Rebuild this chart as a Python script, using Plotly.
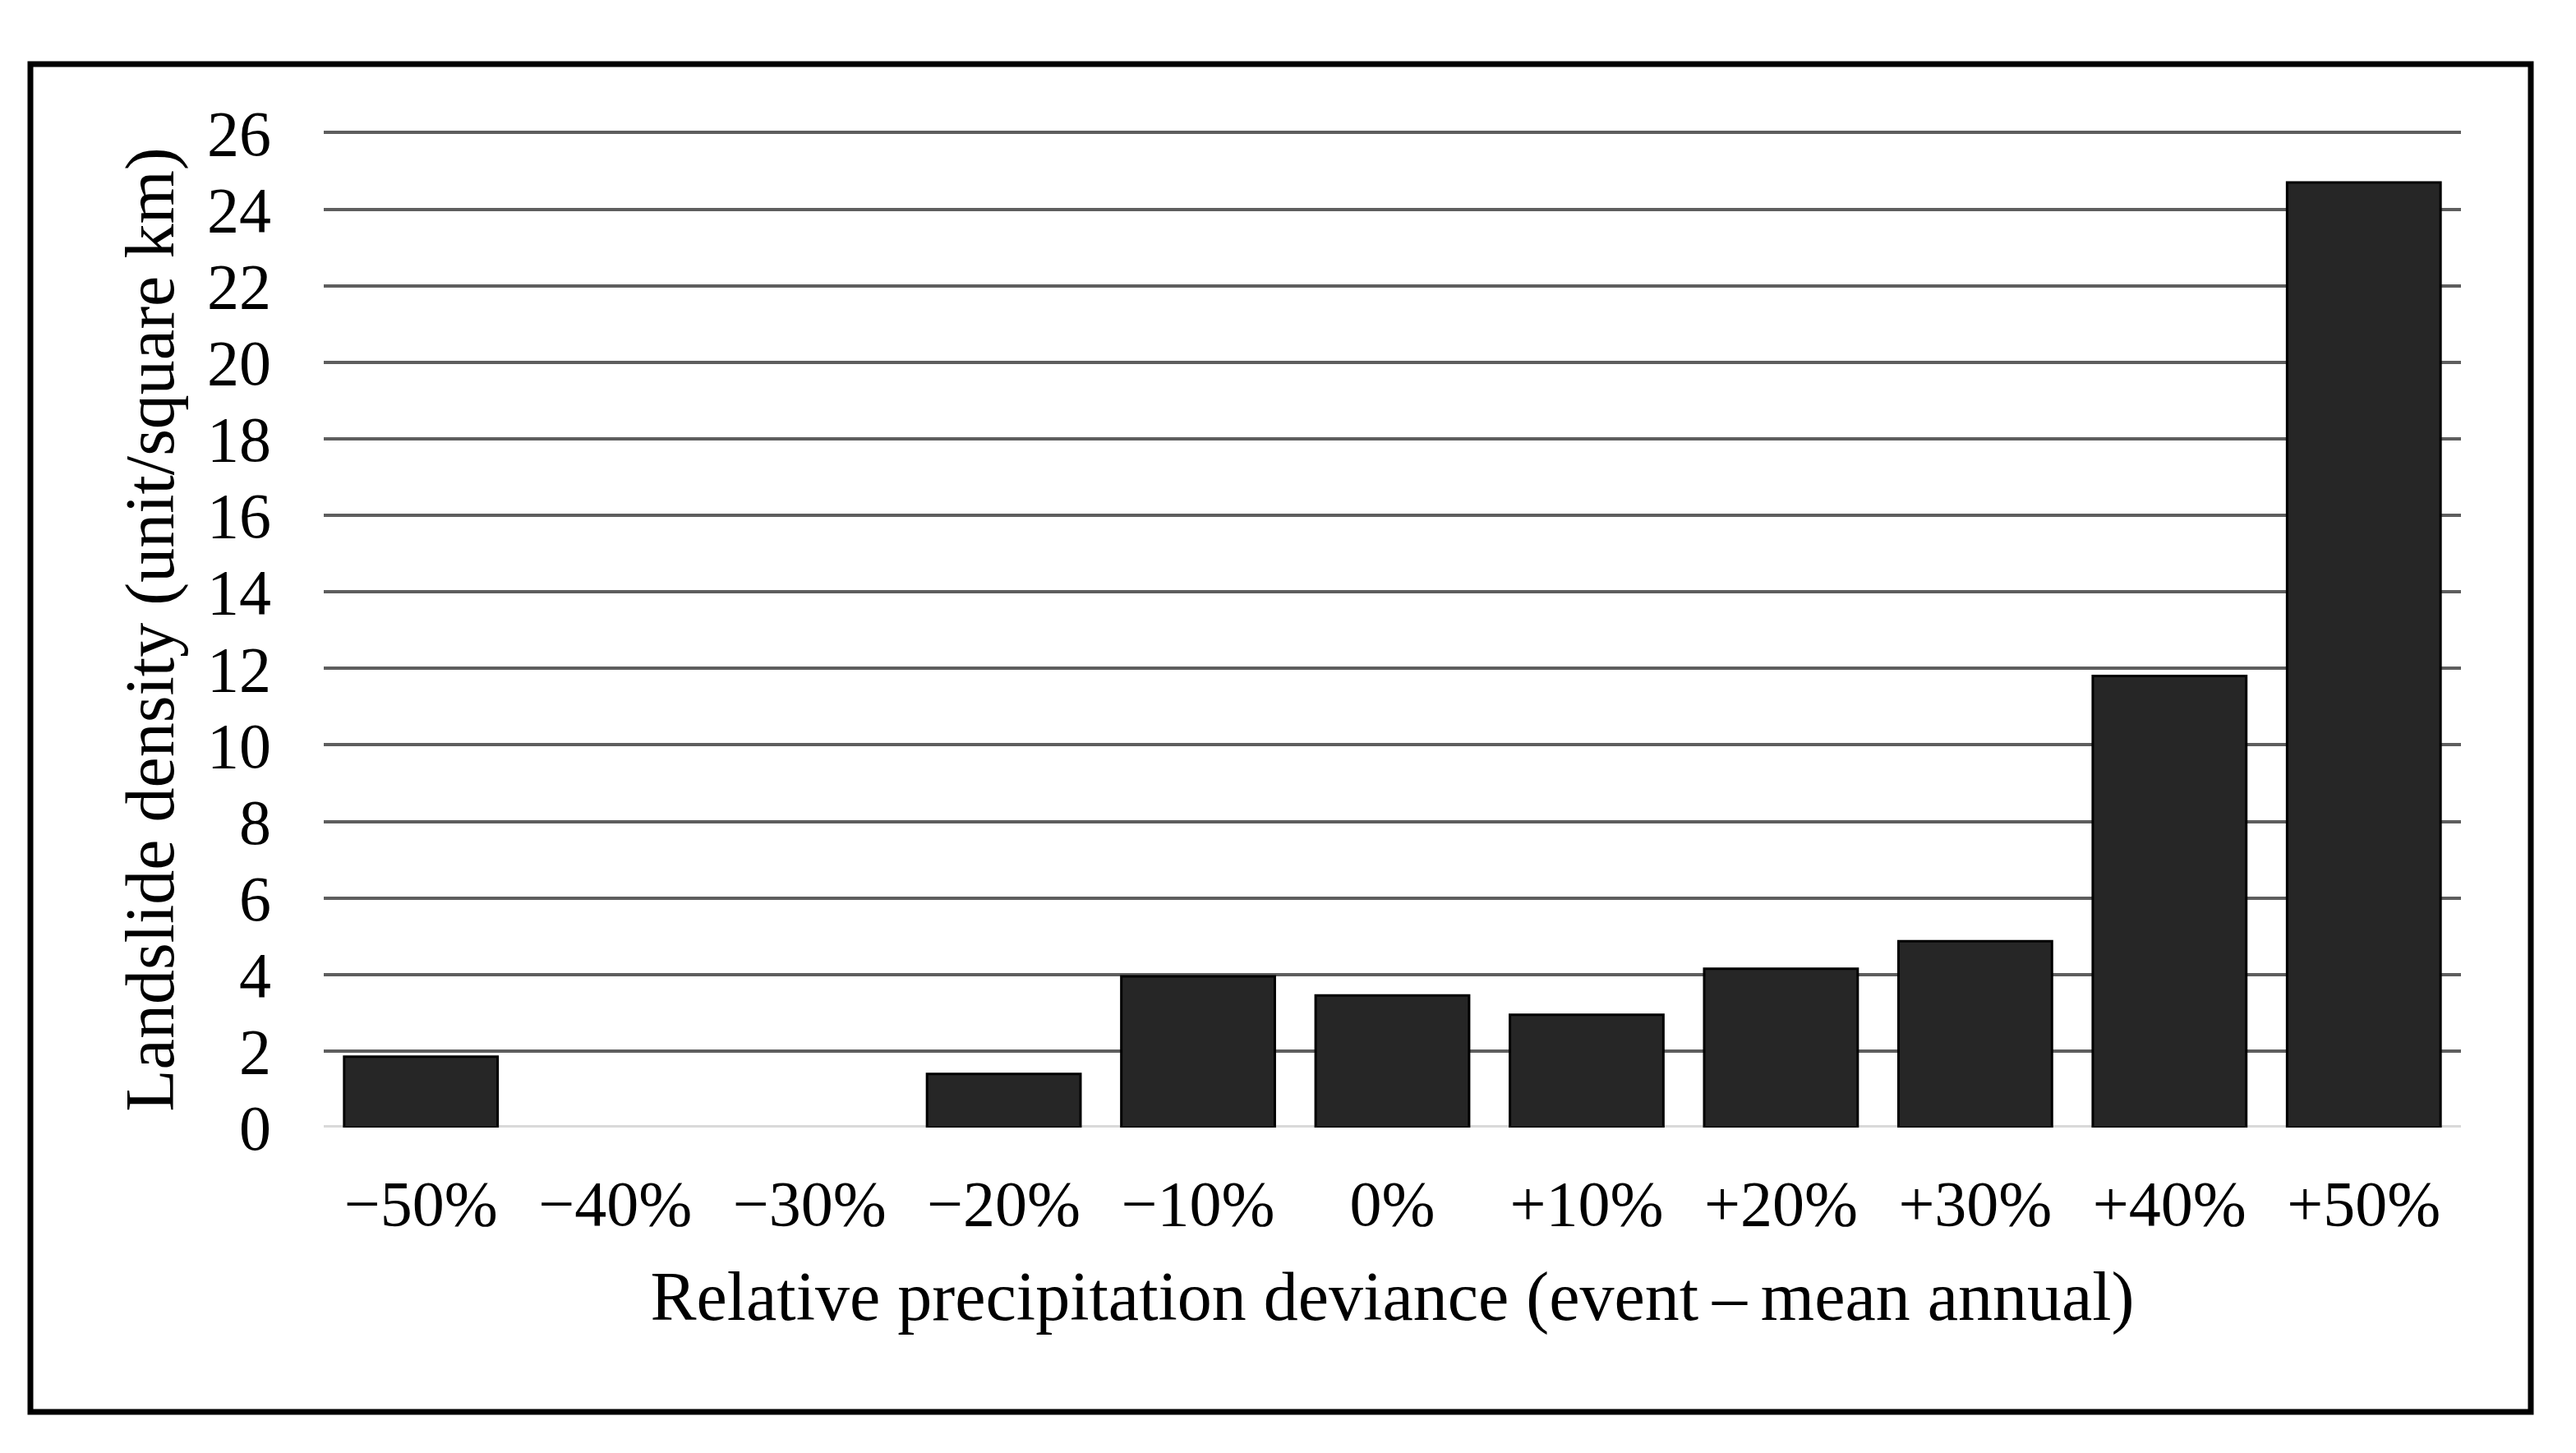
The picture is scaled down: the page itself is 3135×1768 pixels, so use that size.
import plotly.graph_objects as go

categories = ["\u221250%", "\u221240%", "\u221230%", "\u221220%", "\u221210%", "0%",
              "+10%", "+20%", "+30%", "+40%", "+50%"]
density = [1.85, 0, 0, 1.4, 3.95, 3.45, 2.95, 4.15, 4.87, 11.8, 24.7]
y_ticks = list(range(0, 27, 2))

# page body has an 8px margin; work in screen pixels and offset
OFF = 8
W, H = 3135 - 2 * OFF, 1768 - 2 * OFF
L = 394 - OFF
T = 160 - OFF
R = W - (2995 - OFF)
B = H - (1372 - OFF)
pw = W - L - R
ph = H - T - B

font_family = "Liberation Serif, Times New Roman, serif"

fig = go.Figure(go.Bar(
    x=categories, y=density,
    marker=dict(color="#262626",
                line=dict(color="#000000", width=[3 if v > 0 else 0 for v in density])),
    showlegend=False,
))

def px_to_paper_x(px):
    return (px - OFF - L) / pw

def px_to_paper_y(py):
    return (H - B - (py - OFF)) / ph

fig.update_layout(
    width=W, height=H,
    margin=dict(l=L, r=R, t=T, b=B, autoexpand=False),
    paper_bgcolor="white", plot_bgcolor="white",
    bargap=0.21,
    font=dict(family=font_family, color="#000000", size=70),
    xaxis=dict(
        type="category", automargin=False,
        showgrid=False, showline=False, zeroline=False,
        ticks="", tickfont=dict(size=78, family=font_family),
        ticklabelstandoff=40,
        title=dict(text="Relative precipitation deviance (event\u2009\u2013\u2009mean annual)",
                   font=dict(size=84, family=font_family), standoff=40),
    ),
    yaxis=dict(
        range=[0, 26.03], tickvals=y_ticks, ticktext=[str(v) for v in y_ticks],
        automargin=False,
        showgrid=True, gridcolor="#5e5e5e", gridwidth=4,
        zeroline=False, showline=False, ticks="",
        ticklabelstandoff=63,
        tickfont=dict(size=78, family=font_family),
        title=dict(text="Landslide density (unit/square km)",
                   font=dict(size=84, family=font_family), standoff=12),
    ),
    shapes=[
        dict(type="line", xref="paper", yref="y", x0=0, x1=1, y0=0, y1=0,
             line=dict(color="#d9d9d9", width=6), layer="below"),
        dict(type="rect", xref="paper", yref="paper",
             x0=px_to_paper_x(37), x1=px_to_paper_x(3080),
             y0=px_to_paper_y(1718), y1=px_to_paper_y(78),
             line=dict(color="#000000", width=7), fillcolor="rgba(0,0,0,0)"),
    ],
)

fig.write_html("out.html")
